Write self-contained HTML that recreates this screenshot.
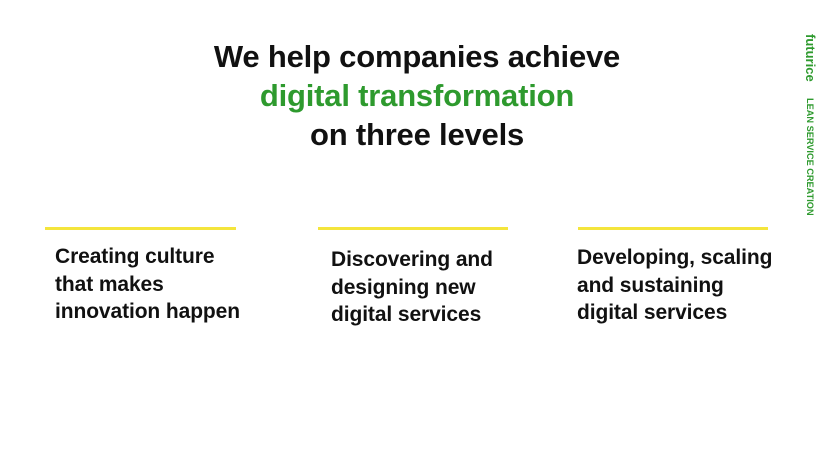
<!DOCTYPE html>
<html><head><meta charset="utf-8"><style>
body{margin:0;width:830px;height:467px;background:#fff;position:relative;overflow:hidden;font-family:"Liberation Sans",sans-serif;}
.title{position:absolute;left:0;width:834px;top:37px;text-align:center;font-weight:bold;font-size:31px;line-height:39px;color:#111;letter-spacing:-0.2px}
.green{color:#2e9a2e}
.bar{position:absolute;height:3px;background:#f4e53c;top:227px}
.col{position:absolute;font-weight:bold;font-size:21px;line-height:27.5px;color:#111;letter-spacing:-0.1px}
.vert{position:absolute;transform-origin:0 0;transform:rotate(90deg);color:#2e9a2e;white-space:nowrap;font-weight:bold}
</style></head><body>
<div class="title">We help companies achieve<br><span class="green">digital transformation</span><br>on three levels</div>
<div class="bar" style="left:45px;width:191px"></div>
<div class="bar" style="left:318px;width:190px"></div>
<div class="bar" style="left:578px;width:190px"></div>
<div class="col" style="left:55px;top:243px">Creating culture<br>that makes<br>innovation happen</div>
<div class="col" style="left:331px;top:246px">Discovering and<br>designing new<br>digital services</div>
<div class="col" style="left:577px;top:244px">Developing, scaling<br>and sustaining<br>digital services</div>
<div class="vert" style="left:818px;top:34px;font-size:13px">futurice</div>
<div class="vert" style="left:815px;top:98px;font-size:9.2px">LEAN SERVICE CREATION</div>
</body></html>
